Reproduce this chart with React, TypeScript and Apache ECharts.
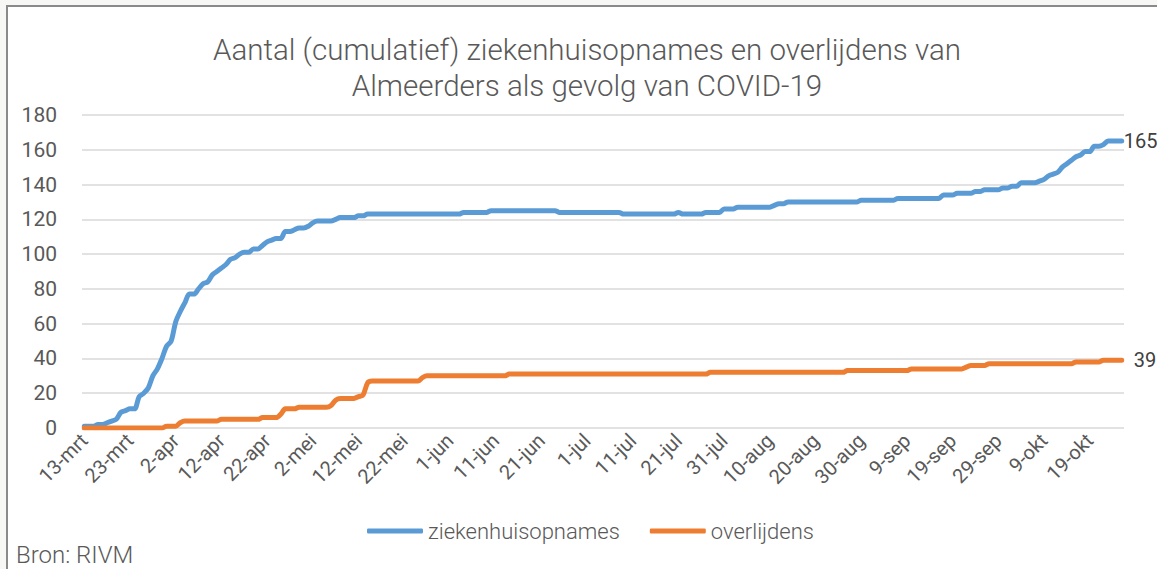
import React, { useEffect, useRef } from "react";
import * as echarts from "echarts";

const MONTHS = ["jan", "feb", "mrt", "apr", "mei", "jun", "jul", "aug", "sep", "okt", "nov", "dec"];
const MONTH_DAYS = [31, 29, 31, 30, 31, 30, 31, 31, 30, 31, 30, 31];
const START_MONTH = 2; // mrt
const START_DAY = 13;
const DAY_COUNT = 228;

function buildCategories(): string[] {
  const out: string[] = [];
  let m = START_MONTH;
  let d = START_DAY;
  for (let i = 0; i < DAY_COUNT; i++) {
    out.push(d + "-" + MONTHS[m]);
    d++;
    if (d > MONTH_DAYS[m]) {
      d = 1;
      m++;
    }
  }
  return out;
}
const categories = buildCategories();

const ziekenhuisopnames = [
  1, 1, 1, 2, 2, 3, 4, 5, 9, 10,
  11, 11, 18, 20, 23, 30, 34, 40, 47, 50,
  61, 67, 72, 77, 77, 80, 83, 84, 88, 90,
  92, 94, 97, 98, 100, 101, 101, 103, 103, 105,
  107, 108, 109, 109, 113, 113, 114, 115, 115, 116,
  118, 119, 119, 119, 119, 120, 121, 121, 121, 121,
  122, 122, 123, 123, 123, 123, 123, 123, 123, 123,
  123, 123, 123, 123, 123, 123, 123, 123, 123, 123,
  123, 123, 123, 124, 124, 124, 124, 124, 124, 125,
  125, 125, 125, 125, 125, 125, 125, 125, 125, 125,
  125, 125, 125, 125, 124, 124, 124, 124, 124, 124,
  124, 124, 124, 124, 124, 124, 124, 124, 123, 123,
  123, 123, 123, 123, 123, 123, 123, 123, 123, 123,
  124, 123, 123, 123, 123, 123, 124, 124, 124, 124,
  126, 126, 126, 127, 127, 127, 127, 127, 127, 127,
  127, 128, 129, 129, 130, 130, 130, 130, 130, 130,
  130, 130, 130, 130, 130, 130, 130, 130, 130, 130,
  131, 131, 131, 131, 131, 131, 131, 131, 132, 132,
  132, 132, 132, 132, 132, 132, 132, 132, 134, 134,
  134, 135, 135, 135, 135, 136, 136, 137, 137, 137,
  137, 138, 138, 139, 139, 141, 141, 141, 141, 142,
  143, 145, 146, 147, 150, 152, 154, 156, 157, 159,
  159, 162, 162, 163, 165, 165, 165, 165,
];

const overlijdens = [
  0, 0, 0, 0, 0, 0, 0, 0, 0, 0,
  0, 0, 0, 0, 0, 0, 0, 0, 1, 1,
  1, 3, 4, 4, 4, 4, 4, 4, 4, 4,
  5, 5, 5, 5, 5, 5, 5, 5, 5, 6,
  6, 6, 6, 8, 11, 11, 11, 12, 12, 12,
  12, 12, 12, 12, 13, 16, 17, 17, 17, 17,
  18, 19, 26, 27, 27, 27, 27, 27, 27, 27,
  27, 27, 27, 27, 29, 30, 30, 30, 30, 30,
  30, 30, 30, 30, 30, 30, 30, 30, 30, 30,
  30, 30, 30, 31, 31, 31, 31, 31, 31, 31,
  31, 31, 31, 31, 31, 31, 31, 31, 31, 31,
  31, 31, 31, 31, 31, 31, 31, 31, 31, 31,
  31, 31, 31, 31, 31, 31, 31, 31, 31, 31,
  31, 31, 31, 31, 31, 31, 31, 32, 32, 32,
  32, 32, 32, 32, 32, 32, 32, 32, 32, 32,
  32, 32, 32, 32, 32, 32, 32, 32, 32, 32,
  32, 32, 32, 32, 32, 32, 32, 33, 33, 33,
  33, 33, 33, 33, 33, 33, 33, 33, 33, 33,
  33, 34, 34, 34, 34, 34, 34, 34, 34, 34,
  34, 34, 34, 35, 36, 36, 36, 36, 37, 37,
  37, 37, 37, 37, 37, 37, 37, 37, 37, 37,
  37, 37, 37, 37, 37, 37, 37, 38, 38, 38,
  38, 38, 38, 39, 39, 39, 39, 39,
];

const yTicks = { min: 0, max: 180, interval: 20 };
const titleLines = [
  "Aantal (cumulatief) ziekenhuisopnames en overlijdens van",
  "Almeerders als gevolg van COVID-19",
];
const sourceText = "Bron: RIVM";
const seriesNames = ["ziekenhuisopnames", "overlijdens"];

const BLUE = "#5B9BD5";
const ORANGE = "#ED7D31";
const TEXT = "#595959";
const FONT = "Roboto";

export default function App() {
  const ref = useRef<HTMLDivElement>(null);
  useEffect(() => {
    document.body.style.margin = "0";
    if (!ref.current) return;
    const chart = echarts.init(ref.current, undefined, { renderer: "svg" });
    const lastLabel = (dist: number) => ({
      show: true,
      formatter: (p: any) => String(p.value),
      color: "#404040",
      fontFamily: FONT,
      fontSize: 20,
      distance: dist,
    });
    chart.setOption({
      animation: false,
      backgroundColor: "#f7f8f5",
      textStyle: { fontFamily: FONT },
      graphic: [
        {
          type: "rect",
          z: -100,
          silent: true,
          shape: { x: 7, y: 6, width: 1160, height: 580 },
          style: { fill: "#ffffff", stroke: "#8a8a8a", lineWidth: 2 },
        },
        {
          type: "text",
          x: 587,
          y: 50,
          style: {
            text: titleLines[0],
            fill: TEXT,
            font: "300 29.5px " + FONT,
            textAlign: "center",
            textVerticalAlign: "middle",
          },
        },
        {
          type: "text",
          x: 587,
          y: 86,
          style: {
            text: titleLines[1],
            fill: TEXT,
            font: "300 29.5px " + FONT,
            textAlign: "center",
            textVerticalAlign: "middle",
          },
        },
        {
          type: "text",
          x: 16,
          y: 555,
          style: {
            text: sourceText,
            fill: TEXT,
            font: "300 24px " + FONT,
            textAlign: "left",
            textVerticalAlign: "middle",
          },
        },
      ],
      grid: { left: 82, right: 33, top: 115, bottom: 141, containLabel: false },
      legend: {
        data: seriesNames,
        bottom: 22,
        left: 362,
        itemWidth: 56,
        itemHeight: 5,
        itemGap: 30,
        icon: "roundRect",
        textStyle: { color: TEXT, fontSize: 22, fontWeight: 300, fontFamily: FONT },
      },
      xAxis: {
        type: "category",
        data: categories,
        boundaryGap: true,
        axisLine: { show: false },
        axisTick: { show: false },
        axisLabel: {
          interval: 9,
          rotate: 45,
          color: TEXT,
          fontSize: 20,
          fontFamily: FONT,
          margin: 9,
        },
        splitLine: { show: false },
      },
      yAxis: {
        type: "value",
        min: yTicks.min,
        max: yTicks.max,
        interval: yTicks.interval,
        axisLine: { show: false },
        axisTick: { show: false },
        axisLabel: { color: TEXT, fontSize: 21, fontFamily: FONT, margin: 25 },
        splitLine: { lineStyle: { color: "#d9d9d9", width: 1.5 } },
      },
      series: [
        {
          name: seriesNames[0],
          type: "line",
          data: ziekenhuisopnames,
          smooth: 0.3,
          showSymbol: false,
          symbol: "none",
          lineStyle: { color: BLUE, width: 5, cap: "round", join: "round" },
          itemStyle: { color: BLUE },
          endLabel: lastLabel(2),
        },
        {
          name: seriesNames[1],
          type: "line",
          data: overlijdens,
          smooth: 0.3,
          showSymbol: false,
          symbol: "none",
          lineStyle: { color: ORANGE, width: 5, cap: "round", join: "round" },
          itemStyle: { color: ORANGE },
          endLabel: lastLabel(12),
        },
      ],
    });
    return () => chart.dispose();
  }, []);
  return <div ref={ref} style={{ width: 1157, height: 569 }} />;
}
